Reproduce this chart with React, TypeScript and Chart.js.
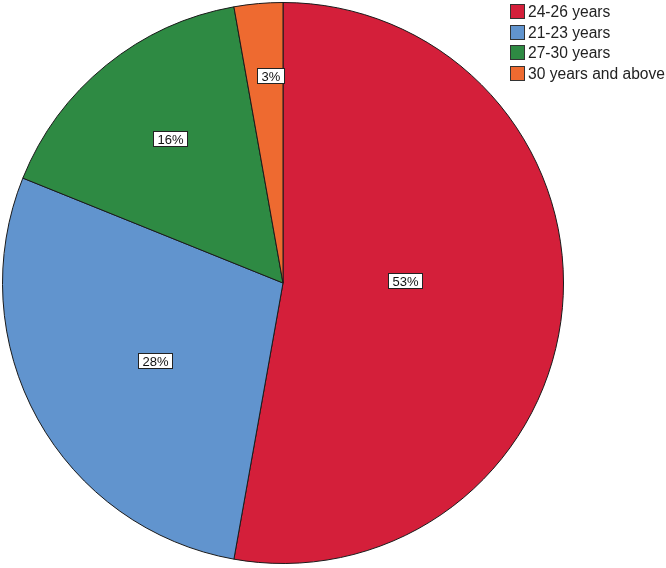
import React, { useEffect, useRef } from "react";
import { Chart, registerables } from "chart.js";

Chart.register(...registerables);

const categories = ["24-26 years", "21-23 years", "27-30 years", "30 years and above"];
const values = [52.8, 28.3, 16.1, 2.8];
const colors = ["#D41F3A", "#6194CE", "#2E8A43", "#EE6A30"];
const labelRadiusFrac = [0.436, 0.532, 0.654, 0.742];
const labelAngleFrac = [0.467, 0.478, 0.52, 0.67];

const FONT = '"Liberation Sans", Arial, sans-serif';

const sliceLabelPlugin = {
  id: "sliceLabels",
  afterDatasetsDraw(chart: any) {
    const ctx = chart.ctx;
    const meta = chart.getDatasetMeta(0);
    const data = chart.data.datasets[0].data as number[];
    const total = data.reduce((a, b) => a + b, 0);
    ctx.save();
    ctx.font = `13px ${FONT}`;
    ctx.textAlign = "center";
    ctx.textBaseline = "middle";
    meta.data.forEach((arc: any, i: number) => {
      const { x, y, startAngle, endAngle, outerRadius } = arc.getProps(
        ["x", "y", "startAngle", "endAngle", "outerRadius"],
        true
      );
      const ang = startAngle + (endAngle - startAngle) * labelAngleFrac[i];
      const r = outerRadius * labelRadiusFrac[i];
      const px = x + Math.cos(ang) * r;
      const py = y + Math.sin(ang) * r;
      const txt = Math.round((data[i] / total) * 100) + "%";
      const w = Math.round(ctx.measureText(txt).width + 8);
      const h = 15;
      const bx = Math.round(px - w / 2) + 0.5;
      const by = Math.round(py - h / 2) + 0.5;
      ctx.fillStyle = "#ffffff";
      ctx.fillRect(bx, by, w, h);
      ctx.strokeStyle = "#222222";
      ctx.lineWidth = 1;
      ctx.strokeRect(bx, by, w, h);
      ctx.fillStyle = "#111111";
      ctx.fillText(txt, bx + w / 2, by + h / 2 + 1);
    });
    ctx.restore();
  },
};

const legendPlugin = {
  id: "customLegend",
  afterDraw(chart: any) {
    const ctx = chart.ctx;
    const labels = chart.data.labels as string[];
    const bg = chart.data.datasets[0].backgroundColor as string[];
    ctx.save();
    ctx.font = `15.6px ${FONT}`;
    ctx.textAlign = "left";
    ctx.textBaseline = "middle";
    labels.forEach((lab, i) => {
      const top = Math.round(4 + i * 20.5);
      ctx.fillStyle = bg[i];
      ctx.fillRect(510.5, top + 0.5, 14, 14);
      ctx.strokeStyle = "#333333";
      ctx.lineWidth = 1;
      ctx.strokeRect(510.5, top + 0.5, 14, 14);
      ctx.fillStyle = "#222222";
      ctx.fillText(lab, 528, top + 8.5);
    });
    ctx.restore();
  },
};

export default function App() {
  const ref = useRef<HTMLCanvasElement | null>(null);
  useEffect(() => {
    if (!ref.current) return;
    const chart = new Chart(ref.current, {
      type: "pie",
      data: {
        labels: categories,
        datasets: [
          {
            data: values,
            backgroundColor: colors,
            borderColor: "#1a1a1a",
            borderWidth: 1,
          },
        ],
      },
      options: {
        responsive: false,
        animation: false,
        layout: { padding: { left: 2, top: 2, right: 102, bottom: 4 } },
        plugins: {
          legend: { display: false },
          tooltip: { enabled: false },
        },
      },
      plugins: [sliceLabelPlugin, legendPlugin],
    });
    return () => chart.destroy();
  }, []);
  return (
    <div style={{ position: "absolute", left: 0, top: 0, width: 666, height: 568, background: "#fff" }}>
      <canvas ref={ref} width={666} height={568} style={{ display: "block" }} />
    </div>
  );
}
